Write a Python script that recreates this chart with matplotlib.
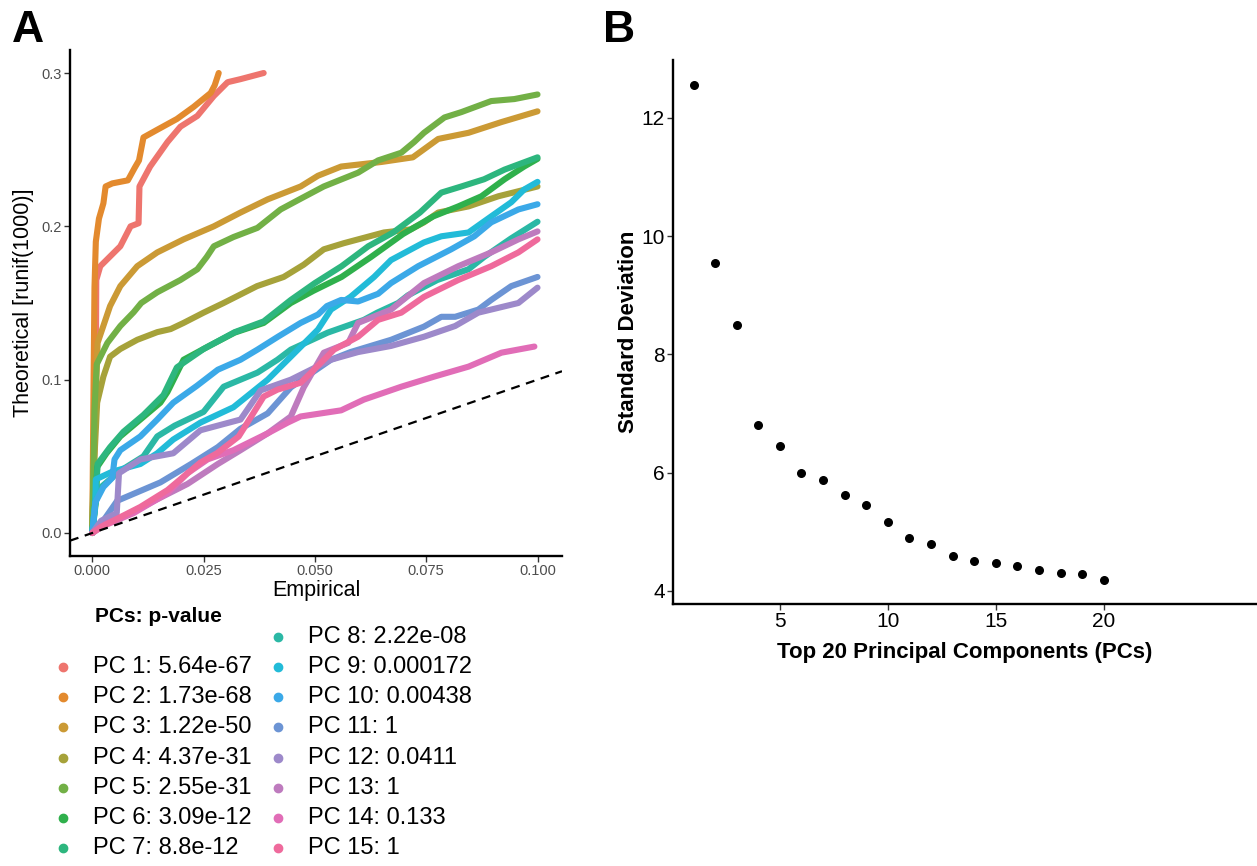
import matplotlib
matplotlib.use("Agg")
import matplotlib.pyplot as plt
from matplotlib.lines import Line2D

plt.rcParams['font.family'] = ['Liberation Sans', 'DejaVu Sans']

# ==== panel A : JackStraw curves (empirical vs theoretical p-value quantiles)
pc1_emp = [0, 0.0008, 0.0009, 0.0018, 0.0063, 0.0086, 0.0104, 0.0106, 0.013, 0.0169, 0.0198, 0.0236, 0.0273, 0.0304, 0.0333, 0.0385]
pc1_theo = [0, 0.10, 0.165, 0.174, 0.187, 0.200, 0.202, 0.226, 0.239, 0.255, 0.265, 0.272, 0.285, 0.294, 0.296, 0.300]

pc2_emp = [0, 0.0003, 0.0005, 0.0008, 0.0015, 0.0025, 0.0030, 0.0045, 0.0080, 0.0095, 0.0105, 0.0115, 0.0146, 0.0190, 0.0228, 0.0266, 0.0275, 0.0284]
pc2_theo = [0, 0.10, 0.16, 0.19, 0.205, 0.215, 0.226, 0.228, 0.230, 0.238, 0.243, 0.258, 0.263, 0.270, 0.278, 0.287, 0.292, 0.300]

pc3_emp = [0, 0.0008, 0.0012, 0.0040, 0.0063, 0.0101, 0.0146, 0.0205, 0.0273, 0.0333, 0.0394, 0.0468, 0.0507, 0.0559, 0.0650, 0.0720, 0.0777, 0.0845, 0.0919, 0.1000]
pc3_theo = [0, 0.09, 0.124, 0.148, 0.161, 0.174, 0.183, 0.1915, 0.200, 0.209, 0.2176, 0.226, 0.233, 0.239, 0.242, 0.245, 0.257, 0.261, 0.268, 0.275]

pc4_emp = [0, 0.0005, 0.0011, 0.0025, 0.0040, 0.0063, 0.0101, 0.0146, 0.0176, 0.0205, 0.0250, 0.0295, 0.0370, 0.0430, 0.0475, 0.0520, 0.0565, 0.0655, 0.0715, 0.0745, 0.0777, 0.0845, 0.0912, 0.1000]
pc4_theo = [0, 0.05, 0.085, 0.102, 0.115, 0.120, 0.126, 0.131, 0.133, 0.137, 0.1437, 0.150, 0.161, 0.167, 0.175, 0.185, 0.189, 0.196, 0.198, 0.2026, 0.209, 0.213, 0.2196, 0.226]

pc5_emp = [0, 0.0005, 0.0010, 0.0034, 0.0063, 0.0093, 0.0110, 0.0146, 0.0198, 0.0236, 0.0257, 0.0273, 0.0317, 0.0371, 0.0423, 0.0468, 0.0520, 0.0597, 0.0642, 0.0694, 0.0723, 0.0745, 0.0791, 0.0829, 0.0896, 0.0948, 0.1000]
pc5_theo = [0, 0.08, 0.11, 0.124, 0.135, 0.144, 0.150, 0.157, 0.165, 0.172, 0.180, 0.187, 0.193, 0.199, 0.211, 0.218, 0.226, 0.235, 0.243, 0.248, 0.255, 0.261, 0.271, 0.2745, 0.2817, 0.283, 0.286]

pc6_emp = [0, 0.0008, 0.0011, 0.0032, 0.0063, 0.0108, 0.0153, 0.0169, 0.0205, 0.0260, 0.0320, 0.0385, 0.0446, 0.0497, 0.0560, 0.0626, 0.0698, 0.0766, 0.0822, 0.0874, 0.0926, 0.0970, 0.1000]
pc6_theo = [0, 0.02, 0.043, 0.052, 0.063, 0.074, 0.085, 0.092, 0.113, 0.1216, 0.1307, 0.137, 0.150, 0.158, 0.167, 0.180, 0.195, 0.2065, 0.213, 0.2196, 0.2307, 0.239, 0.244]

pc7_emp = [0, 0.0008, 0.0012, 0.0040, 0.0070, 0.0115, 0.0160, 0.0190, 0.0250, 0.0320, 0.0385, 0.0446, 0.0500, 0.0560, 0.0620, 0.0676, 0.0736, 0.0784, 0.0829, 0.0880, 0.0926, 0.1000]
pc7_theo = [0, 0.025, 0.045, 0.056, 0.066, 0.077, 0.090, 0.108, 0.120, 0.131, 0.138, 0.152, 0.163, 0.174, 0.187, 0.196, 0.209, 0.222, 0.226, 0.2307, 0.237, 0.245]

pc8_emp = [0, 0.0007, 0.0020, 0.0060, 0.0115, 0.0146, 0.0185, 0.0250, 0.0295, 0.0333, 0.0371, 0.0416, 0.0446, 0.0529, 0.0610, 0.0640, 0.0687, 0.0709, 0.0775, 0.0845, 0.0880, 0.0940, 0.1000]
pc8_theo = [0, 0.02, 0.03, 0.040, 0.050, 0.063, 0.070, 0.079, 0.0954, 0.100, 0.1046, 0.113, 0.1196, 0.1307, 0.139, 0.1437, 0.150, 0.155, 0.165, 0.172, 0.180, 0.192, 0.203]

pc9_emp = [0, 0.0007, 0.0008, 0.0045, 0.0108, 0.0146, 0.0182, 0.0243, 0.0317, 0.0394, 0.0446, 0.0507, 0.0536, 0.0580, 0.0633, 0.0671, 0.0745, 0.0784, 0.0845, 0.0896, 0.0941, 0.0970, 0.1000]
pc9_theo = [0, 0.02, 0.035, 0.040, 0.045, 0.052, 0.061, 0.072, 0.082, 0.100, 0.115, 0.1327, 0.1457, 0.154, 0.167, 0.178, 0.1895, 0.1935, 0.196, 0.2065, 0.2157, 0.224, 0.229]

pc10_emp = [0, 0.0007, 0.0025, 0.0045, 0.0050, 0.0063, 0.0108, 0.0146, 0.0182, 0.0235, 0.0282, 0.0333, 0.0371, 0.0417, 0.0468, 0.0507, 0.0527, 0.0559, 0.0597, 0.0642, 0.0671, 0.0732, 0.0806, 0.0858, 0.0896, 0.0957, 0.1000]
pc10_theo = [0, 0.02, 0.03, 0.036, 0.048, 0.054, 0.063, 0.074, 0.085, 0.096, 0.1065, 0.113, 0.1196, 0.128, 0.137, 0.1425, 0.148, 0.152, 0.151, 0.156, 0.163, 0.174, 0.185, 0.1935, 0.2026, 0.211, 0.2144]

pc11_emp = [0, 0.0020, 0.0056, 0.0153, 0.0222, 0.0282, 0.0333, 0.0394, 0.0446, 0.0536, 0.0580, 0.0671, 0.0745, 0.0784, 0.0815, 0.0867, 0.0896, 0.0941, 0.1000]
pc11_theo = [0, 0.006, 0.021, 0.033, 0.045, 0.056, 0.068, 0.078, 0.095, 0.113, 0.118, 0.126, 0.1346, 0.141, 0.141, 0.1457, 0.152, 0.161, 0.167]

pc12_emp = [0, 0.0020, 0.0055, 0.0060, 0.0108, 0.0182, 0.0243, 0.0333, 0.0378, 0.0446, 0.0536, 0.0597, 0.0671, 0.0745, 0.0815, 0.0867, 0.0957, 0.1000]
pc12_theo = [0, 0.008, 0.013, 0.039, 0.048, 0.052, 0.067, 0.074, 0.093, 0.100, 0.113, 0.118, 0.122, 0.128, 0.135, 0.1437, 0.150, 0.160]

pc13_emp = [0, 0.0030, 0.0080, 0.0146, 0.0214, 0.0282, 0.0333, 0.0394, 0.0446, 0.0475, 0.0520, 0.0575, 0.0597, 0.0671, 0.0745, 0.0822, 0.0896, 0.0957, 0.1000]
pc13_theo = [0, 0.006, 0.012, 0.022, 0.032, 0.045, 0.054, 0.065, 0.076, 0.095, 0.1176, 0.124, 0.137, 0.1457, 0.163, 0.174, 0.183, 0.1915, 0.1967]

pc14_emp = [0, 0.0020, 0.0093, 0.0169, 0.0214, 0.0259, 0.0317, 0.0394, 0.0439, 0.0468, 0.0559, 0.0610, 0.0694, 0.0768, 0.0845, 0.0919, 0.0993]
pc14_theo = [0, 0.004, 0.013, 0.026, 0.039, 0.048, 0.054, 0.065, 0.072, 0.076, 0.080, 0.087, 0.0954, 0.102, 0.1085, 0.1176, 0.1216]

pc15_emp = [0, 0.0020, 0.0108, 0.0169, 0.0243, 0.0280, 0.0329, 0.0355, 0.0385, 0.0416, 0.0468, 0.0498, 0.0543, 0.0597, 0.0642, 0.0694, 0.0745, 0.0822, 0.0896, 0.0957, 0.1000]
pc15_theo = [0, 0.004, 0.017, 0.028, 0.046, 0.052, 0.063, 0.075, 0.089, 0.0935, 0.098, 0.1065, 0.1196, 0.128, 0.139, 0.1437, 0.154, 0.165, 0.174, 0.183, 0.1915]

pc_pvalues = ["5.64e-67", "1.73e-68", "1.22e-50", "4.37e-31", "2.55e-31", "3.09e-12", "8.8e-12",
              "2.22e-08", "0.000172", "0.00438", "1", "0.0411", "1", "0.133", "1"]

pc_colors = ["#EE756E", "#E38A2E", "#CB9A35", "#A6A23A", "#72B046", "#2FB04C", "#2DB67E",
             "#2BB8A5", "#22BBD8", "#3BA9E8", "#6C94D4", "#9D89CA", "#BE7BBE", "#E16DB7", "#EF6A9C"]

# ==== panel B : elbow plot
pc_index = list(range(1, 21))
pc_stdev = [12.56, 9.54, 8.50, 6.80, 6.45, 6.00, 5.88, 5.62, 5.46, 5.17,
            4.90, 4.80, 4.59, 4.50, 4.47, 4.43, 4.35, 4.31, 4.28, 4.19]

curves = [
	(pc1_emp, pc1_theo), (pc2_emp, pc2_theo), (pc3_emp, pc3_theo), (pc4_emp, pc4_theo),
	(pc5_emp, pc5_theo), (pc6_emp, pc6_theo), (pc7_emp, pc7_theo), (pc8_emp, pc8_theo),
	(pc9_emp, pc9_theo), (pc10_emp, pc10_theo), (pc11_emp, pc11_theo), (pc12_emp, pc12_theo),
	(pc13_emp, pc13_theo), (pc14_emp, pc14_theo), (pc15_emp, pc15_theo),
]

W, H = 1257, 866
fig = plt.figure(figsize=(W / 100, H / 100), dpi=100)


def fig_box(left, top, right, bottom):
	return [left / W, 1 - bottom / H, (right - left) / W, (bottom - top) / H]


def style_axes(ax, tick_color, label_size):
	for side in ["top", "right"]:
		ax.spines[side].set_visible(False)
	for side in ["left", "bottom"]:
		ax.spines[side].set_linewidth(1.7)
		ax.spines[side].set_color("black")
	ax.tick_params(length=4, width=1, color="#333333", labelcolor=tick_color,
	               labelsize=label_size, pad=2)


# ==== Panel A
axA = fig.add_axes(fig_box(70, 50, 562, 556))
for (emp, theo), col in zip(curves, pc_colors):
	axA.plot(emp, theo, color=col, lw=4.4, solid_capstyle="round", solid_joinstyle="round")
axA.axline((0, 0), slope=1, color="black", lw=1.6, ls=(0, (4, 3)))
axA.set_xlim(-0.005, 0.1055)
axA.set_ylim(-0.015, 0.315)
axA.set_xticks([0, 0.025, 0.05, 0.075, 0.1])
axA.set_xticklabels(["0.000", "0.025", "0.050", "0.075", "0.100"])
axA.set_yticks([0, 0.1, 0.2, 0.3])
axA.set_yticklabels(["0.0", "0.1", "0.2", "0.3"])
style_axes(axA, "#4D4D4D", 10.5)
axA.set_xlabel("Empirical", fontsize=15.5, labelpad=1)
axA.set_ylabel("Theoretical [runif(1000)]", fontsize=15.5, labelpad=5)

# legend drawn by hand to follow the ggplot layout
fig.text(95 / W, 1 - 617 / H, "PCs: p-value", fontsize=15, fontweight="bold", va="center", ha="left")
for i, (pv, col) in enumerate(zip(pc_pvalues, pc_colors)):
	if i < 7:
		row, x_dot, x_txt = i + 1, 63, 93
	else:
		row, x_dot, x_txt = i - 7, 278, 308
	y = 637 + row * 30.15
	fig.add_artist(Line2D([x_dot / W], [1 - y / H], marker="o", markersize=6, color=col,
	                      linestyle="none", transform=fig.transFigure))
	fig.text(x_txt / W, 1 - y / H, "PC " + str(i + 1) + ": " + pv, fontsize=17, va="center", ha="left")

# ==== Panel B
axB = fig.add_axes(fig_box(673, 60, 1257, 604))
axB.scatter(pc_index, pc_stdev, s=30, color="black", zorder=3)
axB.set_xlim(0.05, 27.1)
axB.set_ylim(3.78, 12.98)
axB.set_xticks([5, 10, 15, 20])
axB.set_yticks([4, 6, 8, 10, 12])
style_axes(axB, "black", 15)
axB.set_xlabel("Top 20 Principal Components (PCs)", fontsize=16, fontweight="bold", labelpad=8)
axB.set_ylabel("Standard Deviation", fontsize=16, fontweight="bold", labelpad=2)

fig.text(12 / W, 1 - 42 / H, "A", fontsize=32, fontweight="bold", va="baseline")
fig.text(603 / W, 1 - 42 / H, "B", fontsize=32, fontweight="bold", va="baseline")

fig.savefig("out.png", dpi=100)
